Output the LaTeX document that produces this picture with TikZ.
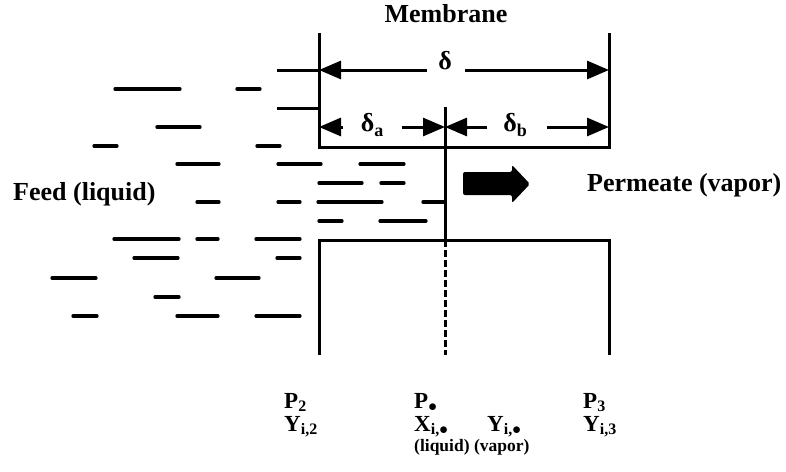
\documentclass[tikz,border=0pt]{standalone}
\usepackage{fontspec}
\setmainfont{Liberation Serif}
\usetikzlibrary{arrows.meta}
\newcommand{\sbt}[1]{\raisebox{-0.35ex}{\fontsize{18}{18}\selectfont #1}}
\newcommand{\sbs}[1]{\raisebox{-0.3ex}{\fontsize{16}{16}\selectfont #1}}
\begin{document}
\begin{tikzpicture}[x=1pt,y=-1pt,
  ln/.style={line width=3pt},
  dsh/.style={line width=3.3pt,line cap=round},
  dimarrow/.style={line width=3pt,-{Triangle[length=22pt,width=18pt]}},
  lbl/.style={inner sep=0pt,font=\fontsize{26}{26}\selectfont\bfseries},
  botlbl/.style={inner sep=0pt,anchor=base west,font=\fontsize{23}{23}\selectfont\bfseries},
  smlbl/.style={inner sep=0pt,anchor=base west,font=\fontsize{17.5}{18}\selectfont\bfseries}]
\useasboundingbox (0,0) rectangle (786,471);
% named coordinates
\coordinate (TL) at (319,33);
\coordinate (TR) at (609,33);
\coordinate (BL) at (319,147);
\coordinate (BR) at (609,147);
\coordinate (CT) at (445,107);
\coordinate (CM) at (445,240);
\coordinate (CB) at (445,355);
\coordinate (LL) at (319,240);
\coordinate (RL) at (609,240);
\coordinate (LB) at (319,355);
\coordinate (RB) at (609,355);
% membrane top frame
\draw[ln] (TL) -- (BL) -- (BR) -- (TR);
% lower frame
\draw[ln] (LB) -- (LL) -- (RL) -- (RB);
% center line
\draw[ln] (CT) -- (CM);
\draw[ln,dash pattern=on 7pt off 3pt] (CM) -- (CB);
% dimension delta
\coordinate (d1) at (277,70);
\coordinate (d2) at (427,70);
\coordinate (d3) at (465,70);
\draw[ln] (d1) -- (319,70);
\draw[dimarrow] (d2) -- (319,70);
\draw[dimarrow] (d3) -- (609,70);
\node[lbl] (delta) at (445,61) {δ};
% extension line
\draw[ln] (277,108) -- (319,108);
% delta a / b
\draw[dimarrow] (343,127) -- (319,127);
\draw[dimarrow] (402,127) -- (445,127);
\draw[dimarrow] (487,127) -- (445,127);
\draw[dimarrow] (547,127) -- (609,127);
\node[lbl] (da) at (372,125) {δ\sbt{a}};
\node[lbl] (db) at (515,125) {δ\sbt{b}};
% title
\node[lbl,anchor=base] (mem) at (446,22) {Membrane};
% feed dashes
\foreach \y/\a/\b in {89/115/180, 89/237/260, 127/157/200, 146/94/117, 146/257/280,
  164/177/219, 164/278/321, 164/360/404,
  183/319/362, 183/381/404,
  202/197/219, 202/278/300, 202/318/382, 202/423/445,
  221/319/342, 221/380/426,
  239/114/179, 239/197/218, 239/256/300,
  258/134/178, 258/277/300,
  278/52/96, 278/216/259,
  297/155/179,
  316/73/97, 316/177/218, 316/256/300}
  \draw[dsh] (\a,\y) -- (\b,\y);
\node[lbl,anchor=base west] (feed) at (13,200) {Feed (liquid)};
\node[lbl,anchor=base west] (perm) at (587,191) {Permeate (vapor)};
% fat arrow
\fill[rounded corners=2pt] (463,172) -- (512,172) -- (512,165) -- (530,184) -- (512,203) -- (512,195) -- (463,195) -- cycle;
% bottom labels
\node[botlbl] (p2) at (284,408) {P\sbs{2}};
\node[botlbl] (y2) at (284,431) {Y\sbs{i,2}};
\node[botlbl] (pm) at (414,408) {P\sbs{$\bullet$}};
\node[botlbl] (xm) at (414,431) {X\sbs{i,$\bullet$}};
\node[botlbl] (ym) at (487,431) {Y\sbs{i,$\bullet$}};
\node[smlbl] (lv) at (414,451) {(liquid) (vapor)};
\node[botlbl] (p3) at (583,408) {P\sbs{3}};
\node[botlbl] (y3) at (583,431) {Y\sbs{i,3}};
\end{tikzpicture}
\end{document}
